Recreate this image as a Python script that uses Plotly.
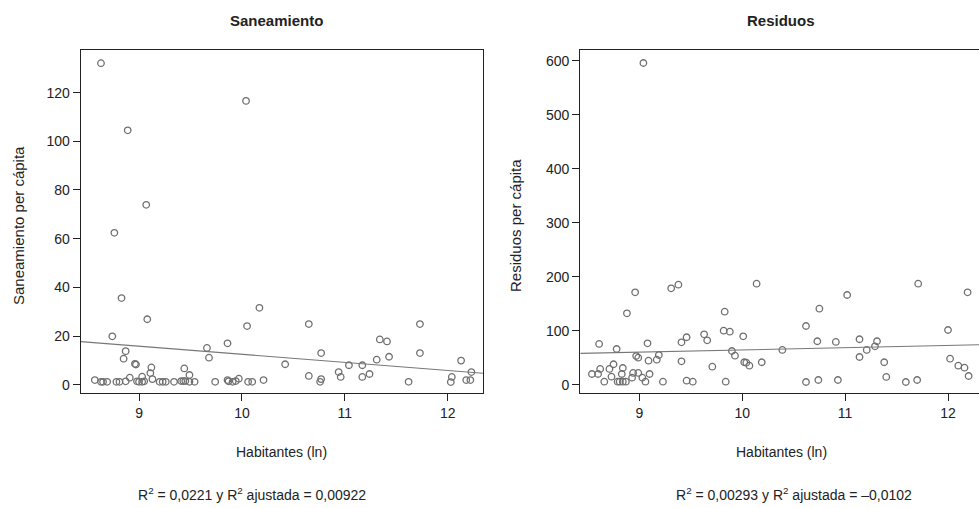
import numpy as np
import plotly.graph_objects as go

# ---------------- data ----------------
san_x = [8.63, 8.89, 10.04, 9.07, 8.76, 8.83,
         9.08, 8.74, 8.87, 8.85, 8.96, 8.97, 9.12, 9.11, 9.13, 9.03, 8.91, 9.44, 9.49,
         9.66, 9.68, 9.86, 10.05, 10.17, 10.21, 9.97, 9.86, 9.87, 9.91, 9.94, 10.06, 10.10,
         8.57, 8.63, 8.65, 8.69, 8.78, 8.81, 8.87, 8.98, 9.00, 9.03, 9.05, 9.20, 9.23,
         9.26, 9.34, 9.41, 9.43, 9.45, 9.49, 9.54, 9.74,
         10.65, 10.42, 10.77, 10.65, 10.77, 10.76, 10.94, 10.96, 11.04, 11.17, 11.17,
         11.24, 11.31, 11.34, 11.41, 11.43, 11.62, 11.73, 11.73, 12.04, 12.03, 12.13,
         12.23, 12.18, 12.22]
san_y = [132.1, 104.5, 116.6, 73.9, 62.4, 35.6,
         26.9, 19.9, 13.8, 10.7, 8.6, 8.3, 7.1, 4.8, 2.3, 3.3, 2.9, 6.7, 4.0,
         15.1, 11.1, 17.0, 24.1, 31.6, 1.9, 2.5, 1.9, 1.4, 1.2, 1.5, 1.2, 1.2,
         1.9, 1.2, 1.2, 1.2, 1.2, 1.2, 1.4, 1.4, 1.2, 1.2, 1.4, 1.2, 1.2,
         1.2, 1.2, 1.5, 1.5, 1.5, 1.2, 1.2, 1.2,
         24.9, 8.4, 13.0, 3.6, 2.3, 1.2, 5.2, 3.2, 8.0, 8.0, 3.2,
         4.4, 10.3, 18.6, 17.8, 11.5, 1.2, 24.9, 13.0, 3.2, 1.1, 9.9,
         5.2, 1.9, 1.9]

res_x = [9.04,
         8.96, 9.31, 9.38, 10.14, 8.88, 9.83,
         8.61, 8.78, 9.08, 9.41, 9.46, 9.63, 9.66, 9.82, 9.88, 10.01,
         9.90, 9.93, 10.02, 10.04, 10.07, 10.19,
         8.97, 8.99, 9.19, 9.17, 9.09, 9.41, 9.71,
         8.75, 8.71, 8.84, 8.62, 8.54, 8.60, 8.83, 8.73, 8.94, 8.99, 9.10, 8.93, 9.03,
         8.66, 8.79, 8.81, 8.84, 8.87, 9.06, 9.23, 9.46, 9.52, 9.84,
         10.39, 10.62, 10.75, 11.02, 11.71, 12.19, 10.73, 10.91, 11.14, 11.31, 11.29,
         11.21, 11.14, 11.38, 11.40, 12.00, 12.02, 12.10, 12.16, 12.20,
         10.62, 10.74, 10.93, 11.59, 11.70]
res_y = [595.7,
         171.1, 178.5, 185.2, 187.0, 132.2, 135.2,
         75.4, 66.1, 76.6, 78.5, 87.8, 93.3, 82.2, 100.0, 98.1, 89.6,
         62.4, 53.7, 41.5, 40.7, 35.2, 41.5,
         53.1, 50.0, 55.0, 46.3, 44.4, 43.3, 33.3,
         37.8, 29.1, 30.9, 29.1, 19.8, 19.8, 19.8, 14.8, 21.7, 21.7, 19.8, 13.0, 13.0,
         5.6, 5.6, 5.6, 5.6, 5.6, 5.6, 5.6, 7.4, 5.6, 5.6,
         64.3, 108.7, 140.7, 166.1, 187.0, 171.1, 80.4, 79.1, 84.1, 80.4, 71.1,
         64.3, 51.3, 41.5, 14.3, 101.3, 48.1, 35.2, 31.5, 16.1,
         5.0, 8.7, 8.7, 5.0, 8.7]

# fitted lines (intercept, slope)
san_fit = (45.7, -3.32)
res_fit = (23.4, 4.1)

x_ticks = [9, 10, 11, 12]
san_ticks = [0, 20, 40, 60, 80, 100, 120]
res_ticks = [0, 100, 200, 300, 400, 500, 600]

titles = ["Saneamiento", "Residuos"]
y_titles = ["Saneamiento per cápita", "Residuos per cápita"]
x_title = "Habitantes (ln)"
r2_texts = ["R<sup>2</sup> = 0,0221 y R<sup>2</sup> ajustada = 0,00922",
            "R<sup>2</sup> = 0,00293 y R<sup>2</sup> ajustada = \u20130,0102"]

# ---------------- figure ----------------
W, H = 979, 508
FONT = "Liberation Sans, Arial, Helvetica, sans-serif"
INK = "#222222"
PT = "#6f6f6f"

xr1 = [8.433, 12.343]
xr2 = [8.427, 12.301]
yr1 = [-3.4, 137.5]
yr2 = [-15.4, 619.8]

fig = go.Figure()

marker = dict(symbol="circle-open", size=6.5, color=PT, line=dict(width=1.3, color=PT))

fig.add_trace(go.Scatter(x=san_x, y=san_y, mode="markers", marker=marker,
                         xaxis="x", yaxis="y", showlegend=False))
fig.add_trace(go.Scatter(x=res_x, y=res_y, mode="markers", marker=marker,
                         xaxis="x2", yaxis="y2", showlegend=False))

lx1 = np.array(xr1)
fig.add_trace(go.Scatter(x=lx1, y=san_fit[0] + san_fit[1] * lx1, mode="lines",
                         line=dict(color="#777777", width=1.1),
                         xaxis="x", yaxis="y", showlegend=False, cliponaxis=True))
lx2 = np.array(xr2)
fig.add_trace(go.Scatter(x=lx2, y=res_fit[0] + res_fit[1] * lx2, mode="lines",
                         line=dict(color="#777777", width=1.1),
                         xaxis="x2", yaxis="y2", showlegend=False, cliponaxis=True))

ydom = [(H - 393) / H, (H - 50) / H]
xdom1 = [80.7 / W, 483 / W]
xdom2 = [580.3 / W, 1.0]

axis_common = dict(showline=True, linecolor=INK, linewidth=1.3, ticks="outside",
                   ticklen=7, tickwidth=1.2, tickcolor=INK, showgrid=False,
                   zeroline=False, tickfont=dict(family=FONT, size=14, color=INK))

fig.update_layout(
    width=W, height=H,
    margin=dict(l=0, r=0, t=0, b=0),
    paper_bgcolor="white", plot_bgcolor="white",
    font=dict(family=FONT, color=INK),
    xaxis=dict(domain=xdom1, range=xr1, tickvals=x_ticks, anchor="y", mirror=True, **axis_common),
    yaxis=dict(domain=ydom, range=yr1, tickvals=san_ticks, anchor="x", mirror=True, **axis_common),
    xaxis2=dict(domain=xdom2, range=xr2, tickvals=x_ticks, anchor="y2", mirror=True, **axis_common),
    yaxis2=dict(domain=ydom, range=yr2, tickvals=res_ticks, anchor="x2", mirror=False, **axis_common),
)

anns = []
title_x = [276, 781]
ytitle_x = [18, 515]
xtitle_x = [281, 781]
r2_x = [252, 794]
for i in range(2):
    anns.append(dict(text="<b>" + titles[i] + "</b>", x=title_x[i] / W, y=(H - 20) / H,
                     xref="paper", yref="paper", showarrow=False, xanchor="center", yanchor="middle",
                     font=dict(family=FONT, size=15, color=INK)))
    anns.append(dict(text=y_titles[i], x=ytitle_x[i] / W, y=(H - 226) / H, textangle=-90,
                     xref="paper", yref="paper", showarrow=False, xanchor="center", yanchor="middle",
                     font=dict(family=FONT, size=15, color=INK)))
    anns.append(dict(text=x_title, x=xtitle_x[i] / W, y=(H - 452) / H,
                     xref="paper", yref="paper", showarrow=False, xanchor="center", yanchor="middle",
                     font=dict(family=FONT, size=14, color=INK)))
    anns.append(dict(text=r2_texts[i], x=r2_x[i] / W, y=(H - 494) / H,
                     xref="paper", yref="paper", showarrow=False, xanchor="center", yanchor="middle",
                     font=dict(family=FONT, size=14, color=INK)))
fig.update_layout(annotations=anns)

fig.write_html("out.html")
